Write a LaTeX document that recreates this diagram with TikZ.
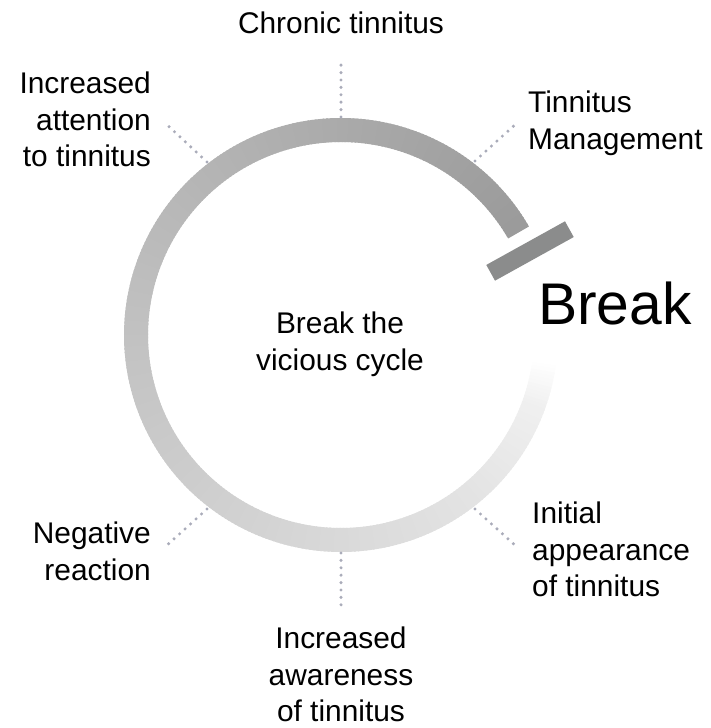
\documentclass[tikz,border=0pt]{standalone}
\usepackage{fontspec}
\setmainfont{Liberation Sans}
\usetikzlibrary{calc}
\definecolor{dotgray}{RGB}{170,172,186}
\definecolor{bargray}{RGB}{139,140,140}
\begin{document}
\begin{tikzpicture}[x=1bp,y=1bp,
  lbl/.style={font=\fontsize{30}{36.5}\selectfont, inner sep=0pt, text=black},
  dots/.style={draw=dotgray, line width=3.4bp, line cap=round, dash pattern=on 0bp off 7.4bp},
  barbox/.style={fill=bargray, draw=none, inner sep=0pt, minimum width=90bp, minimum height=18bp, rotate=29}]
\useasboundingbox (0,0) rectangle (711,728);
\coordinate (C) at (341,393);
% ring with angular gradient
\begin{scope}[shift={(341,393)}]
\foreach \i in {0,...,321}{
  \pgfmathsetmacro{\segt}{\i+0.5}
  \pgfmathtruncatemacro{\segg}{ifthenelse(\segt<12,255-1.25*\segt,ifthenelse(\segt<42,240-0.4*(\segt-12),228-0.2607*(\segt-42)))}
  \pgfmathsetmacro{\angA}{-8-\i}
  \pgfmathsetmacro{\angB}{max(-8-\i-1.5,-330)}
  \definecolor{seg}{RGB}{\segg,\segg,\segg}
  \fill[seg] (\angA:193bp) arc[start angle=\angA, end angle=\angB, radius=193bp]
     -- (\angB:217bp) arc[start angle=\angB, end angle=\angA, radius=217bp] -- cycle;
}
\end{scope}
% break bar
\node[barbox] (brk) at (530,477) {};
% labels
\node[lbl, anchor=base] (chronic) at (341,694) {Chronic tinnitus};
\node[lbl, anchor=north east, align=right] (attn) at (151,656) {Increased\\attention\\to tinnitus};
\node[lbl, anchor=north west, align=left] (mgmt) at (528,637) {Tinnitus\\Management};
\node[lbl, anchor=north, align=center] (centre) at (340,416) {Break the\\vicious cycle};
\node[lbl, anchor=north west, align=left] (initial) at (532,226) {Initial\\appearance\\of tinnitus};
\node[lbl, anchor=north east, align=right] (neg) at (151,206) {Negative\\reaction};
\node[lbl, anchor=north, align=center] (aware) at (341,101) {Increased\\awareness\\of tinnitus};
\node[font=\fontsize{59}{70}\selectfont, inner sep=0pt, anchor=base west] (breakword) at (538,403) {Break};
% dotted leaders
\coordinate (top1) at (341,611); \coordinate (top2) at (341,670);
\coordinate (ul1) at (207,566); \coordinate (ul2) at (164,606);
\coordinate (ur1) at (475,567); \coordinate (ur2) at (518,606);
\coordinate (ll1) at (207,219); \coordinate (ll2) at (164,180);
\coordinate (bt1) at (341,175); \coordinate (bt2) at (341,116);
\coordinate (lr1) at (475,219); \coordinate (lr2) at (518,180);
\draw[dots] (top1) -- (top2);
\draw[dots] (ul1) -- (ul2);
\draw[dots] (ur1) -- (ur2);
\draw[dots] (ll1) -- (ll2);
\draw[dots] (bt1) -- (bt2);
\draw[dots] (lr1) -- (lr2);
\end{tikzpicture}
\end{document}
